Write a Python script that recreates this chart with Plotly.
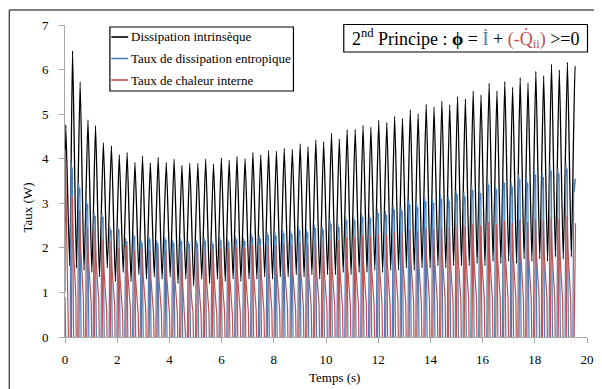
import plotly.graph_objects as go

# ---- data ----
# time of each black (intrinsic dissipation) peak, s
t_peak = [0.03, 0.29, 0.58, 0.88, 1.17, 1.47, 1.78, 2.08, 2.38, 2.68, 2.97, 3.27, 3.57, 3.88, 4.18, 4.48, 4.78,
          5.09, 5.39, 5.69, 5.99, 6.29, 6.59, 6.90, 7.20, 7.50, 7.80, 8.10, 8.40, 8.71, 9.01, 9.31, 9.61, 9.91,
          10.21, 10.51, 10.81, 11.12, 11.42, 11.72, 12.02, 12.33, 12.63, 12.93, 13.23, 13.53, 13.84, 14.14, 14.44, 14.74, 15.04,
          15.34, 15.64, 15.94, 16.25, 16.55, 16.85, 17.15, 17.44, 17.74, 18.04, 18.34, 18.64, 18.94, 19.25, 19.55]
black_peak = [4.76, 6.42, 5.72, 4.87, 4.74, 4.36, 4.29, 4.09, 4.14, 3.92, 4.06, 3.91, 4.03, 3.92, 3.99, 3.85, 3.90,
              3.90, 3.99, 3.88, 4.02, 3.97, 4.05, 4.00, 4.14, 4.09, 4.18, 4.17, 4.23, 4.21, 4.33, 4.27, 4.42, 4.38,
              4.57, 4.44, 4.65, 4.66, 4.75, 4.71, 4.86, 4.81, 4.95, 4.90, 5.10, 5.01, 5.22, 5.16, 5.29, 5.21, 5.39,
              5.34, 5.52, 5.43, 5.69, 5.52, 5.73, 5.60, 5.82, 5.70, 5.96, 5.86, 6.12, 5.99, 6.16, 6.07]
black_trough = [1.60, 1.55, 1.50, 1.45, 1.35, 1.55, 1.25, 1.45, 1.25, 1.40, 1.30, 1.35, 1.30, 1.35, 1.20, 1.30, 1.15,
                1.30, 1.20, 1.30, 1.25, 1.30, 1.25, 1.30, 1.30, 1.35, 1.30, 1.35, 1.35, 1.40, 1.35, 1.40, 1.30, 1.40,
                1.40, 1.45, 1.40, 1.45, 1.45, 1.50, 1.45, 1.50, 1.50, 1.55, 1.50, 1.55, 1.55, 1.60, 1.55, 1.60, 1.60,
                1.60, 1.65, 1.60, 1.70, 1.65, 1.70, 1.65, 1.75, 1.70, 1.75, 1.70, 1.80, 1.75, 1.80, 1.80]
blue_peak = [0.60, 3.92, 3.45, 3.08, 2.80, 2.78, 2.48, 2.49, 2.22, 2.33, 2.18, 2.26, 2.17, 2.25, 2.18, 2.22, 2.15,
             2.17, 2.22, 2.15, 2.24, 2.20, 2.26, 2.22, 2.32, 2.28, 2.36, 2.35, 2.40, 2.38, 2.47, 2.42, 2.52, 2.48,
             2.62, 2.55, 2.70, 2.70, 2.78, 2.75, 2.87, 2.83, 2.95, 2.92, 3.06, 3.00, 3.14, 3.10, 3.20, 3.15, 3.30,
             3.25, 3.40, 3.33, 3.52, 3.42, 3.57, 3.48, 3.65, 3.57, 3.76, 3.70, 3.85, 3.78, 3.90, 3.55]
red_peak = [4.20, 3.15, 2.85, 2.45, 2.40, 2.20, 2.15, 2.00, 2.05, 1.95, 2.00, 1.95, 2.00, 1.95, 1.98, 1.93, 1.96,
            1.95, 1.98, 1.95, 2.00, 1.98, 2.02, 2.00, 2.05, 2.03, 2.07, 2.06, 2.10, 2.08, 2.13, 2.10, 2.17, 2.15,
            2.20, 2.17, 2.24, 2.23, 2.28, 2.26, 2.32, 2.30, 2.36, 2.34, 2.40, 2.37, 2.44, 2.42, 2.47, 2.45, 2.50,
            2.48, 2.53, 2.50, 2.58, 2.53, 2.60, 2.56, 2.63, 2.58, 2.66, 2.62, 2.69, 2.65, 2.72, 2.55]
red_low = [1.00, 0.90, 0.85, 0.75, 0.80, 0.60, 0.70, 0.55, 0.65, 0.50, 0.60, 0.50, 0.55, 0.50, 0.55, 0.45, 0.55,
           0.50, 0.55, 0.50, 0.55, 0.50, 0.55, 0.55, 0.60, 0.55, 0.60, 0.60, 0.65, 0.60, 0.65, 0.65, 0.70, 0.65,
           0.70, 0.65, 0.70, 0.70, 0.75, 0.70, 0.75, 0.75, 0.80, 0.75, 0.80, 0.75, 0.80, 0.80, 0.85, 0.80, 0.85,
           0.85, 0.85, 0.85, 0.85, 0.85, 0.85, 0.85, 0.85, 0.85, 0.85, 0.85, 0.85, 0.85, 0.85, 0.85]
negative_dip = -2.5            # both rates swing below the visible axis minimum
start_values = {"black": 2.60, "blue": 0.90, "red": 1.00}
t_end = 19.56
end_values = {"black": 6.07, "blue": 3.55, "red": 2.55}

# waveform inside one cycle: offset from the black peak (s)
black_dt = [0.0, 0.15]
blue_dt = [-0.09, -0.06, -0.035, -0.01, 0.035, 0.07]
blue_level = [0.0, 1.0, 0.92, 0.97, 0.0]                 # fraction of the cycle peak, then the dip
red_dt = [-0.045, -0.015, 0.02, 0.06, 0.10, 0.125, 0.14, 0.17]
red_level = [1.0, 0.58, 0.28, 0.08, 0.0]                 # fraction between low and peak

x_ticks = [0, 2, 4, 6, 8, 10, 12, 14, 16, 18, 20]
y_ticks = [0, 1, 2, 3, 4, 5, 6, 7]

names = ["Dissipation intrinsèque", "Taux de dissipation entropique", "Taux de chaleur interne"]
colors = ["#000000", "#4a7ebb", "#c0504d"]


def cycle_points(kind, k):
    if kind == "black":
        return list(zip(black_dt, [black_peak[k], black_trough[k]]))
    if kind == "blue":
        vals = [blue_peak[k] * f for f in blue_level] + [negative_dip]
        return list(zip(blue_dt, vals))
    lo, pk = red_low[k], red_peak[k]
    vals = [0.0] + [lo + (pk - lo) * f for f in red_level] + [0.0, negative_dip]
    return list(zip(red_dt, vals))


def build(kind):
    xs, ys = [0.0], [start_values[kind]]
    for k, T in enumerate(t_peak):
        for dt, v in cycle_points(kind, k):
            t = T + dt
            if xs[-1] < t < t_end:
                xs.append(t)
                ys.append(v)
    xs.append(t_end)
    ys.append(end_values[kind])
    return xs, ys


fig = go.Figure()
for kind, name, col in zip(["black", "blue", "red"], names, colors):
    xs, ys = build(kind)
    line = dict(color=col, width=1.3)
    if kind == "black":
        line.update(shape="spline", smoothing=0.5)
    else:
        line.update(width=1.2)
    fig.add_trace(go.Scatter(x=xs, y=ys, mode="lines", name=name, line=line, showlegend=False))

# page body adds an 8 px offset; layout is expressed in screen pixels
OFF = 8
W, H = 602 - OFF, 389 - OFF
L, R, T, B = 65 - OFF, 8, 25 - OFF, 52
pw, ph = W - L - R, H - T - B


def px(xs):
    return (xs - OFF - L) / pw


def py(ys):
    return (H - B - (ys - OFF)) / ph


font = "Liberation Serif, DejaVu Serif, serif"
shapes = [
    dict(type="rect", xref="paper", yref="paper", x0=px(8.5), x1=px(2000), y0=py(2000), y1=py(10),
         line=dict(color="#000000", width=1)),
    dict(type="rect", xref="paper", yref="paper", x0=px(110.5), x1=px(296.5), y0=py(91), y1=py(27),
         line=dict(color="#000000", width=1.2), fillcolor="white", layer="above"),
    dict(type="rect", xref="paper", yref="paper", x0=px(347.5), x1=px(594.5), y0=py(52), y1=py(24.5),
         line=dict(color="#000000", width=1.2), fillcolor="white", layer="above"),
]
annotations = []
for i, (name, col) in enumerate(zip(names, colors)):
    yl = 37 + 21.5 * i
    shapes.append(dict(type="line", xref="paper", yref="paper", x0=px(112), x1=px(129), y0=py(yl), y1=py(yl),
                       line=dict(color=col, width=1.6), layer="above"))
    annotations.append(dict(xref="paper", yref="paper", x=px(129.5), y=py(yl), xanchor="left", yanchor="middle",
                            text=name, showarrow=False, font=dict(family=font, size=13, color="#000000")))

annotations.append(dict(
    xref="paper", yref="paper", x=px(471), y=py(38.5), xanchor="center", yanchor="middle", showarrow=False,
    text="2<sup>nd</sup> Principe : <b>ϕ</b> = <span style='color:#4a7ebb'>İ</span> + "
         "<span style='color:#c0504d'>(-Q̇<sub>ii</sub>)</span> >=0",
    font=dict(family=font, size=18, color="#000000")))
annotations.append(dict(xref="paper", yref="paper", x=px(338), y=py(377), xanchor="center", yanchor="middle",
                        text="Temps (s)", showarrow=False, font=dict(family=font, size=13, color="#000000")))
annotations.append(dict(xref="paper", yref="paper", x=px(26), y=py(208), xanchor="center", yanchor="middle",
                        text="Taux (W)", textangle=-90, showarrow=False,
                        font=dict(family=font, size=13, color="#000000")))

fig.update_layout(
    width=W, height=H, margin=dict(l=L, r=R, t=T, b=B),
    paper_bgcolor="white", plot_bgcolor="white",
    font=dict(family=font, size=12, color="#000000"),
    shapes=shapes, annotations=annotations, showlegend=False,
    xaxis=dict(range=[0, 20], tickvals=x_ticks, showgrid=False, zeroline=False,
               showline=True, linecolor="#a6a6a6", linewidth=1, ticks="outside", ticklen=5,
               tickcolor="#a6a6a6", tickfont=dict(family=font, size=13), ticklabelstandoff=5),
    yaxis=dict(range=[0, 7], tickvals=y_ticks, showgrid=False, zeroline=False,
               showline=True, linecolor="#a6a6a6", linewidth=1, ticks="outside", ticklen=5,
               tickcolor="#a6a6a6", tickfont=dict(family=font, size=13), ticklabelstandoff=8),
)

fig.write_html("out.html")
